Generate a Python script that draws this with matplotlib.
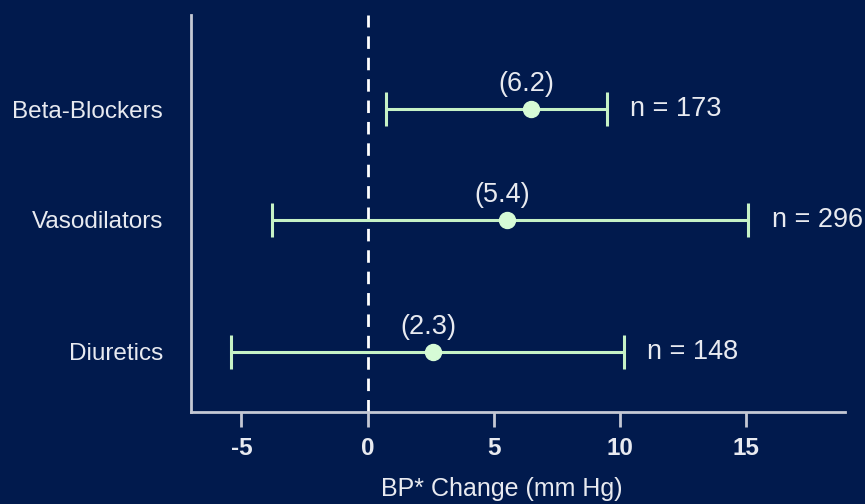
import matplotlib
matplotlib.use("Agg")
import matplotlib.pyplot as plt

categories = ["Beta-Blockers", "Vasodilators", "Diuretics"]
means = [6.47, 5.52, 2.58]
lows = [0.75, -3.77, -5.4]
highs = [9.48, 15.08, 10.16]
mean_labels = ["(6.2)", "(5.4)", "(2.3)"]
n_labels = ["n = 173", "n = 296", "n = 148"]
xticks = [-5, 0, 5, 10, 15]

# layout positions (not data)
ypos = [1.84, 1.0, 0.0]

BG = "#011a4d"
LINE = "#c6f2c6"
FILL = "#d6fbd6"
TXT = "#e8eaf0"
SPINE = "#c4c8d4"

plt.rcParams["font.family"] = ["Liberation Sans", "DejaVu Sans"]

fig = plt.figure(figsize=(8.65, 5.04), dpi=100, facecolor=BG)
ax = fig.add_axes([191/865, 1-412/504, (845-191)/865, (412-15)/504])
ax.set_facecolor(BG)

ax.set_xlim(-7, 18.93)
ax.set_ylim(-0.455, 2.553)

ax.axvline(0, color="white", lw=2.0, linestyle=(0, (4.5, 3.2)), zorder=1)

for i in range(len(categories)):
    m = means[i]
    err = [[m - lows[i]], [highs[i] - m]]
    ax.errorbar([m], [ypos[i]], xerr=err, fmt="o", color=LINE, ecolor=LINE,
                elinewidth=2.2, capsize=12, capthick=2.2, markersize=11.5,
                markerfacecolor=FILL, markeredgecolor=FILL, zorder=3)
    ax.annotate(mean_labels[i], (m, ypos[i]), xytext=(-3, 18), textcoords="offset points",
                ha="center", va="center", color=TXT, fontsize=19.5)
    ax.annotate(n_labels[i], (highs[i], ypos[i]), xytext=(17, 0), textcoords="offset points",
                ha="left", va="center", color=TXT, fontsize=19.5)

ax.set_yticks(ypos)
ax.set_yticklabels(categories, fontsize=17.5, color=TXT)
ax.tick_params(axis="y", length=0, pad=20)

ax.set_xticks(xticks)
ax.set_xticklabels([str(t) for t in xticks], fontsize=17.5, color=TXT, fontweight="bold")
ax.tick_params(axis="x", length=11, width=2, color=SPINE, pad=7, direction="out")

ax.set_xlabel("BP* Change (mm Hg)", fontsize=18, color=TXT, labelpad=12)
ax.xaxis.label.set_x((502 - 191) / 654)

for s in ["top", "right"]:
    ax.spines[s].set_visible(False)
for s in ["left", "bottom"]:
    ax.spines[s].set_color(SPINE)
    ax.spines[s].set_linewidth(2)

fig.savefig("out.png", dpi=100, facecolor=BG)
